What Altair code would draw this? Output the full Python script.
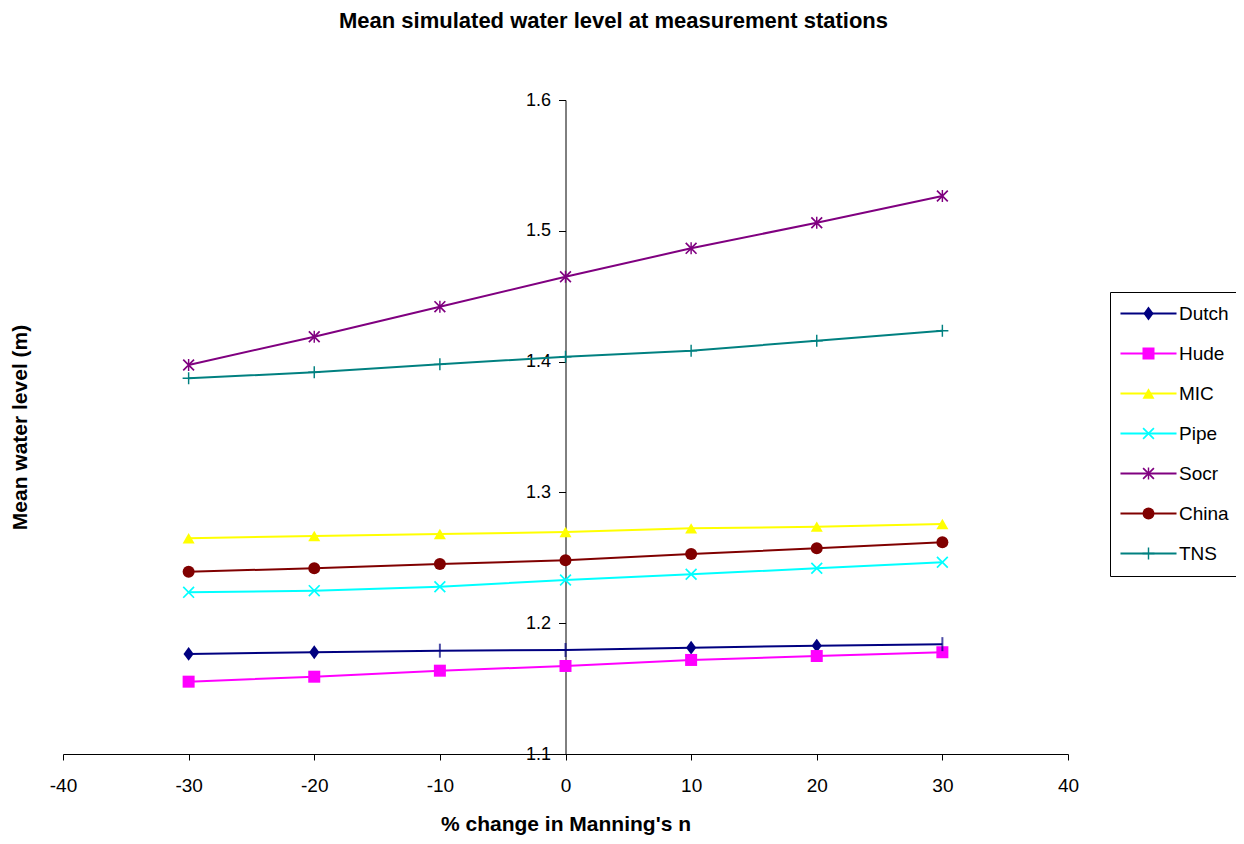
import altair as alt
import pandas as pd

# ---- data ----
pct_change = [-30, -20, -10, 0, 10, 20, 30]
stations = ["Dutch", "Hude", "MIC", "Pipe", "Socr", "China", "TNS"]
dutch = [1.1765, 1.1778, 1.1790, 1.1795, 1.1813, 1.1828, 1.1840]
hude = [1.1553, 1.1591, 1.1637, 1.1673, 1.1719, 1.1749, 1.1778]
mic = [1.2649, 1.2667, 1.2682, 1.2697, 1.2725, 1.2738, 1.2758]
pipe = [1.2236, 1.2249, 1.2279, 1.2330, 1.2374, 1.2420, 1.2466]
socr = [1.3974, 1.4190, 1.4420, 1.4649, 1.4866, 1.5062, 1.5266]
china = [1.2394, 1.2420, 1.2453, 1.2481, 1.2529, 1.2573, 1.2618]
tns = [1.3872, 1.3918, 1.3979, 1.4037, 1.4083, 1.4160, 1.4236]
dutch_tick_only = [-10, 0, 30]  # Dutch points drawn as a vertical dash

x_ticks = [-40, -30, -20, -10, 0, 10, 20, 30, 40]
y_ticks = [1.1, 1.2, 1.3, 1.4, 1.5, 1.6]

colors = ["#000080", "#FF00FF", "#FFFF00", "#00FFFF", "#800080", "#800000", "#008080"]
shapes = [
    "M0,-1.15L0.85,0L0,1.15L-0.85,0Z",  # diamond
    "square",
    "triangle-up",
    # X
    "M-1,-0.8L-0.8,-1L1,0.8L0.8,1Z M-1,0.8L0.8,-1L1,-0.8L-0.8,1Z",
    # asterisk
    "M-1,-0.8L-0.8,-1L1,0.8L0.8,1Z M-1,0.8L0.8,-1L1,-0.8L-0.8,1Z M-0.12,-1L0.12,-1L0.12,1L-0.12,1Z",
    "circle",
    # plus
    "M-1,-0.12L1,-0.12L1,0.12L-1,0.12Z M-0.12,-1L0.12,-1L0.12,1L-0.12,1Z",
]

series_values = [dutch, hude, mic, pipe, socr, china, tns]
rows = []
for name, vals in zip(stations, series_values):
    for xv, yv in zip(pct_change, vals):
        rows.append({"pct": xv, "level": yv, "series": name})
df = pd.DataFrame(rows)

FONT = "Liberation Sans, Arial, sans-serif"

W, H = 1005, 654

x_enc = alt.X(
    "pct:Q",
    scale=alt.Scale(domain=[-40, 40], nice=False),
    axis=alt.Axis(
        values=x_ticks, title="% change in Manning's n", grid=False,
        labelExpr="'' + datum.value",
        tickSize=6, labelPadding=16, labelFontSize=19, labelFont=FONT,
        titleFont=FONT, titleFontSize=21, titleFontWeight="bold",
        titlePadding=18, domainColor="black", tickColor="black",
        labelColor="black", titleColor="black", labelFlush=False,
    ),
)
y_enc = alt.Y(
    "level:Q",
    scale=alt.Scale(domain=[1.1, 1.6], nice=False, zero=False),
    axis=alt.Axis(
        values=y_ticks, format=".1f", title="Mean water level (m)", grid=False,
        offset=-W / 2, tickSize=7, labelPadding=8, labelFontSize=18,
        labelFont=FONT, titleFont=FONT, titleFontSize=21,
        titleFontWeight="bold", titleX=-535, domainColor="black",
        tickColor="black", labelColor="black", titleColor="black",
        labelFlush=False,
    ),
)

# line legend (draws the frame, the line samples and the labels)
lines = alt.Chart(df).mark_line(strokeWidth=2).encode(
    x=x_enc,
    y=y_enc,
    stroke=alt.Stroke(
        "series:N",
        sort=stations,
        scale=alt.Scale(range=colors),
        legend=alt.Legend(
            title=None, orient="none", legendX=1047, legendY=192,
            symbolType="M-4.67,0H4.67", symbolSize=144, symbolStrokeWidth=2,
            padding=12, symbolOffset=17, labelOffset=21, rowPadding=20,
            labelFontSize=19, labelFont=FONT, labelColor="black",
            strokeColor="black", labelLimit=200,
        ),
    ),
    order="pct:Q",
)

# marker legend, overlaid on the line legend (labels hidden)
point_legend = alt.Legend(
    title=None, orient="none", legendX=1047, legendY=192,
    symbolSize=144, padding=12, symbolOffset=17, labelOffset=21,
    rowPadding=20, labelFontSize=19, labelFont=FONT, labelOpacity=0,
    symbolStrokeWidth=0, labelLimit=200,
)

points = alt.Chart(df).transform_filter(
    ~alt.FieldOneOfPredicate(field="series", oneOf=["Dutch"])
    | ~alt.FieldOneOfPredicate(field="pct", oneOf=dutch_tick_only)
).mark_point(filled=True, size=144, opacity=1).encode(
    x="pct:Q",
    y="level:Q",
    color=alt.Color("series:N",
                    scale=alt.Scale(domain=stations, range=colors),
                    legend=point_legend),
    shape=alt.Shape("series:N",
                    scale=alt.Scale(domain=stations, range=shapes),
                    legend=point_legend),
)

ticks = alt.Chart(df).transform_filter(
    alt.FieldEqualPredicate(field="series", equal="Dutch")
).transform_filter(
    alt.FieldOneOfPredicate(field="pct", oneOf=dutch_tick_only)
).mark_tick(orient="vertical", size=14, thickness=2, color="#000080").encode(
    x="pct:Q",
    y="level:Q",
)

chart = alt.layer(lines, points, ticks).properties(
    width=W,
    height=H,
    background="white",
    title=alt.TitleParams(
        "Mean simulated water level at measurement stations",
        font=FONT, fontSize=22, fontWeight="bold", color="black",
        anchor="middle", dx=48, offset=58,
    ),
    autosize=alt.AutoSizeParams(type="none"),
    padding={"left": 55, "top": 92, "right": 168, "bottom": 82},
).configure_view(strokeWidth=0, stroke="transparent")

chart.save("out.html", embed_options={"renderer": "svg", "actions": False})
